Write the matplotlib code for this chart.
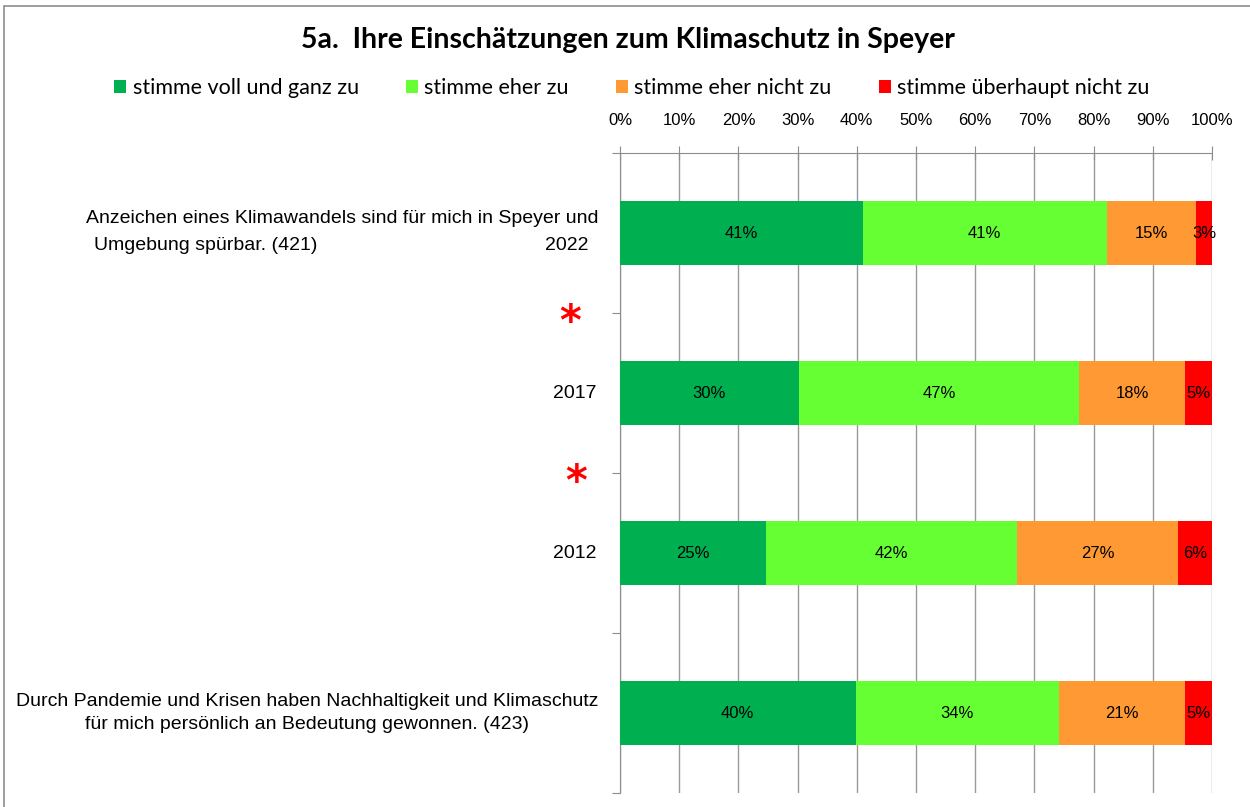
import matplotlib
matplotlib.use("Agg")
import matplotlib.pyplot as plt
from matplotlib import font_manager
from matplotlib.patches import Rectangle

# Daten
jahre = ["2022", "2017", "2012", ""]
voll = [41.0, 30.2, 24.7, 39.8]
eher = [41.2, 47.4, 42.4, 34.3]
eher_nicht = [15.1, 17.8, 27.2, 21.3]
gar_nicht = [2.7, 4.6, 5.7, 4.6]

serien = ["stimme voll und ganz zu", "stimme eher zu", "stimme eher nicht zu", "stimme überhaupt nicht zu"]
farben = ["#00B050", "#66FF33", "#FF9933", "#FF0000"]

frage1 = "Anzeichen eines Klimawandels sind für mich in Speyer und"
frage1b = "Umgebung spürbar. (421)"
frage2 = "Durch Pandemie und Krisen haben Nachhaltigkeit und Klimaschutz\nfür mich persönlich an Bedeutung gewonnen. (423)"
titel = "5a.  Ihre Einschätzungen zum Klimaschutz in Speyer"
prozent = [0, 10, 20, 30, 40, 50, 60, 70, 80, 90, 100]

# Schriften (schmale Schrift wenn vorhanden)
namen = {f.name for f in font_manager.fontManager.ttflist}
if "Liberation Sans Narrow" in namen:
    schmal, gr, gr_klein = "Liberation Sans Narrow", 16, 14
else:
    schmal, gr, gr_klein = "Liberation Sans", 14, 12
plt.rcParams['font.family'] = [schmal, 'DejaVu Sans']

fig = plt.figure(figsize=(12.5, 8.07), dpi=100)
ax = fig.add_axes([620/1250, 1-793/807, 592/1250, 640/807])

# Rahmen um das Diagramm
fig.patches.append(Rectangle((4/1250, -0.1), 1.2, 1-6/807+0.1, transform=fig.transFigure,
                             fill=False, edgecolor="#8c8c8c", linewidth=1.2))

pos = list(range(len(jahre)))
links = [0, 0, 0, 0]
daten = [voll, eher, eher_nicht, gar_nicht]
balken = []
for werte, farbe, name in zip(daten, farben, serien):
    b = ax.barh(pos, werte, left=links, height=0.4, color=farbe, label=name, zorder=3)
    balken.append(b)
    for y, (l, w) in enumerate(zip(links, werte)):
        ax.text(l + w/2, y, f"{w:.0f}%", ha="center", va="center", fontsize=gr_klein, zorder=4)
    links = [l + w for l, w in zip(links, werte)]

ax.set_xlim(0, 100)
ax.set_ylim(3.5, -0.5)
ax.xaxis.tick_top()
ax.set_xticks(prozent)
ax.set_xticklabels([f"{p}%" for p in prozent], fontsize=gr_klein)
ax.tick_params(axis="x", direction="inout", length=10, color="#8c8c8c", pad=13)
ax.set_yticks([-0.5, 0.5, 1.5, 2.5, 3.5])
ax.set_yticklabels([])
ax.tick_params(axis="y", direction="out", length=6, color="#8c8c8c")
ax.grid(axis="x", color="#999999", linewidth=1, zorder=0)
for s in ["right", "bottom"]:
    ax.spines[s].set_visible(False)
for s in ["top", "left"]:
    ax.spines[s].set_color("#8c8c8c")

# Kategorien links
tr = ax.get_yaxis_transform()
ax.text(-22/592, 0 - 0.09, frage1, transform=tr, ha="right", va="center", fontsize=gr)
ax.text(-526/592, 0 + 0.08, frage1b, transform=tr, ha="left", va="center", fontsize=gr)
ax.text(-31/592, 0 + 0.08, jahre[0], transform=tr, ha="right", va="center", fontsize=gr)
ax.text(-23/592, 1, jahre[1], transform=tr, ha="right", va="center", fontsize=gr)
ax.text(-23/592, 2, jahre[2], transform=tr, ha="right", va="center", fontsize=gr)
ax.text(-313/592, 3, frage2, transform=tr, ha="center", va="center", fontsize=gr,
        multialignment="center", linespacing=1.4)

# Sterne (signifikante Unterschiede)
ax.text(-50/592, 0.56, "*", transform=tr, ha="center", va="center", color="red",
        fontsize=30, fontweight="bold", family="DejaVu Sans")
ax.text(-44/592, 1.56, "*", transform=tr, ha="center", va="center", color="red",
        fontsize=30, fontweight="bold", family="DejaVu Sans")

fig.text(628/1250, 1-40/807, titel, ha="center", va="center", fontsize=20.5,
         fontweight="bold", family=["Lato", "DejaVu Sans"])
fig.legend(handles=balken, loc="center", bbox_to_anchor=(632/1250, 1-88/807), ncol=4,
           frameon=False, handlelength=0.55, handleheight=0.55, handletextpad=0.3,
           columnspacing=2.2, prop={"family": ["Lato", "DejaVu Sans"], "size": 15.5})

fig.savefig("out.png", dpi=100)
